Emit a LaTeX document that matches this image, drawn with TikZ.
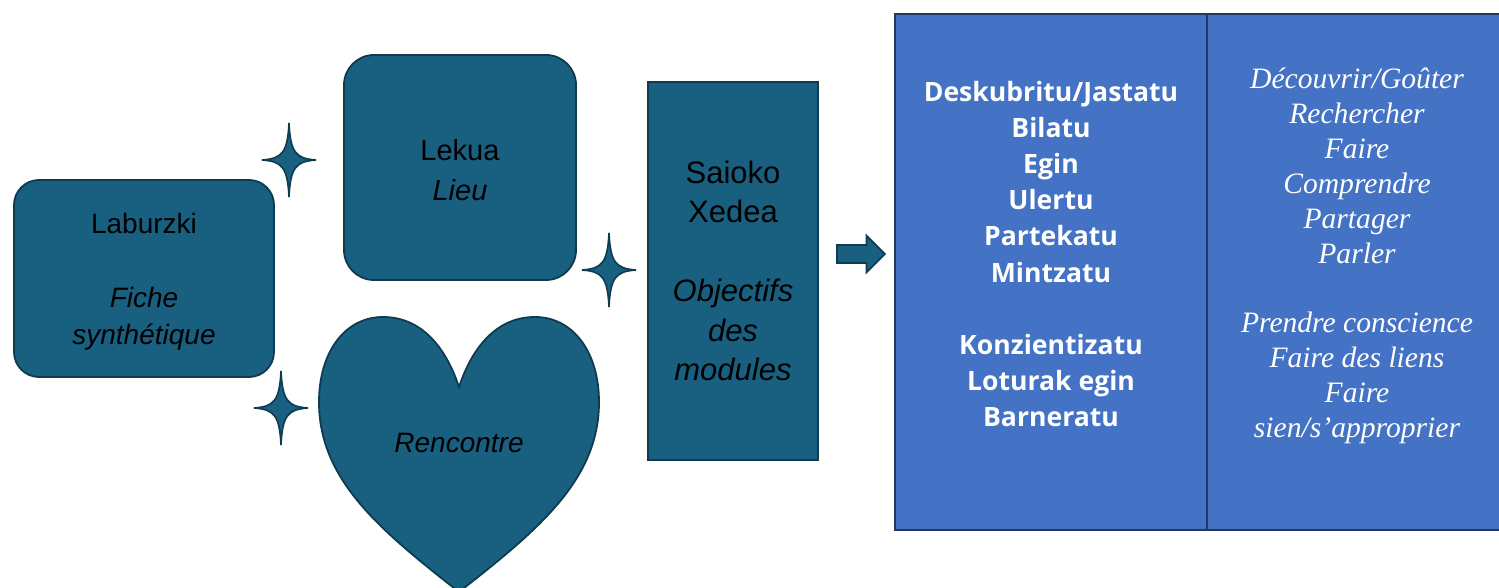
\documentclass[tikz,border=0pt]{standalone}
\usepackage{fontspec}
\setmainfont{Liberation Sans}
\newfontfamily\eufont{Open Sans}
\newfontfamily\frfont{Liberation Serif}
\usetikzlibrary{positioning,shapes.arrows}
\definecolor{petrol}{HTML}{185F80}
\definecolor{petroldark}{HTML}{0F3B50}
\definecolor{tablefill}{HTML}{4472C4}
\definecolor{tableline}{HTML}{22385E}
\tikzset{
  bloc/.style={draw=petroldark, line width=0.9pt, fill=petrol, inner sep=0pt},
  bloctext/.style={align=center, text=black, inner sep=0pt},
  cell/.style={draw=tableline, line width=1.2pt, fill=tablefill, inner sep=0pt, outer sep=0pt},
  sparkle/.pic={\filldraw[draw=petroldark, fill=petrol, line width=0.8pt]
    (0,-37) .. controls (1.5,-7) and (7,-1.5) .. (27,0)
    .. controls (7,1.5) and (1.5,7) .. (0,37)
    .. controls (-1.5,7) and (-7,1.5) .. (-27,0)
    .. controls (-7,-1.5) and (-1.5,-7) .. (0,-37) -- cycle;}
}
\begin{document}
\begin{tikzpicture}[x=0.5pt, y=-0.5pt]
\useasboundingbox (0,0) rectangle (1499,588);
\clip (0,0) rectangle (1499,588);
% left blocks
\node[bloc, rounded corners=12.5pt, minimum width=130pt, minimum height=98.5pt] (laburzki) at (144,278.5) {};
\node[bloctext, font=\fontsize{14}{18.5}\selectfont] (laburzkitext) at (144,281.5)
  {Laburzki\\[18.5pt]\textit{Fiche}\\\textit{synthétique}};
\node[bloc, rounded corners=15pt, minimum width=116pt, minimum height=112.5pt] (lekua) at (460,167.5) {};
\node[bloctext, font=\fontsize{14.5}{20}\selectfont] (lekuatext) at (460,170.5)
  {Lekua\\\textit{Lieu}};
\filldraw[draw=petroldark, fill=petrol, line width=0.9pt]
  (459,387) .. controls (445,345) and (420,317) .. (383,317)
  .. controls (345,317) and (319,352) .. (319,402)
  .. controls (319,480) and (380,530) .. (459,592)
  .. controls (538,530) and (599,480) .. (599,402)
  .. controls (599,352) and (573,317) .. (535,317)
  .. controls (498,317) and (473,345) .. (459,387) -- cycle;
\node[font=\fontsize{14}{18.5}\selectfont\itshape] (rencontre) at (459,443) {Rencontre};
\node[bloc, minimum width=85pt, minimum height=189pt] (saioko) at (733,271) {};
\node[bloctext, font=\fontsize{15.5}{19.7}\selectfont] (saiokotext) at (733,271)
  {Saioko\\Xedea\\[19.7pt]\textit{Objectifs}\\\textit{des}\\\textit{modules}};
% sparkles
\pic at (289,160) {sparkle};
\pic at (609,270) {sparkle};
\pic at (281,408) {sparkle};
% arrow
\node[single arrow, draw=petroldark, fill=petrol, line width=0.9pt, anchor=west,
  minimum height=24pt, minimum width=17.5pt, inner sep=4pt,
  single arrow head extend=4.75pt, single arrow tip angle=90] (fleche) at (836,254) {};
% table
\node[cell, minimum width=156pt, minimum height=258pt] (celleu) at (1051,272) {};
\node[cell, minimum width=180pt, minimum height=258pt, anchor=west] (cellfr) at (celleu.east) {};
\node[text=white, align=center, font=\eufont\bfseries\fontsize{13.3}{18.1}\selectfont] (verbeu) at (1051,254)
  {Deskubritu/Jastatu\\Bilatu\\Egin\\Ulertu\\Partekatu\\Mintzatu\\[18.1pt]Konzientizatu\\Loturak egin\\Barneratu};
\node[text=white, align=center, font=\frfont\itshape\fontsize{14.8}{17.45}\selectfont] (verbfr) at (1357,256)
  {Découvrir/Goûter\\Rechercher\\Faire\\Comprendre\\Partager\\Parler\\[17.45pt]Prendre conscience\\Faire des liens\\Faire\\sien/s’approprier};
\end{tikzpicture}
\end{document}
